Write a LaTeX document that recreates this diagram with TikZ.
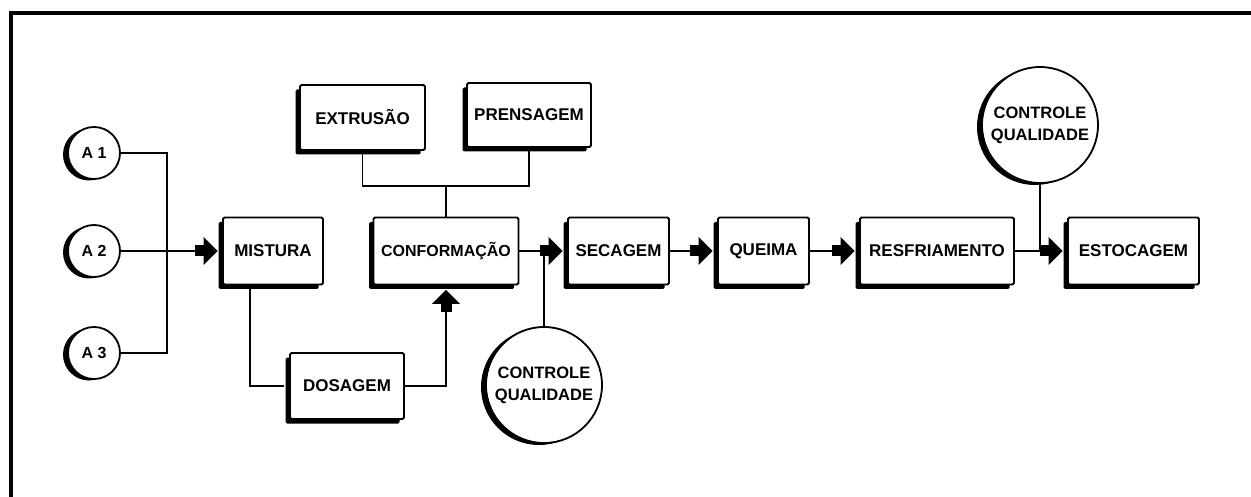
\documentclass[tikz,border=0pt]{standalone}
\usepackage{fontspec}
\setmainfont{Liberation Sans}
\usetikzlibrary{shadows,arrows.meta,calc}
\begin{document}
\begin{tikzpicture}[x=1pt,y=-1pt,
  lbl/.style={font=\fontsize{17}{21}\selectfont\bfseries, align=center},
  boxnode/.style={lbl, draw, line width=1.8pt, fill=white, rounded corners=1.5pt, minimum height=67pt, inner sep=0pt,
    drop shadow={shadow xshift=-4.5pt, shadow yshift=-4.5pt, fill=black, opacity=1}},
  srcnode/.style={circle, draw, line width=1.8pt, fill=white, minimum size=52pt, inner sep=0pt,
    font=\fontsize{16}{18}\selectfont\bfseries,
    drop shadow={shadow xshift=-5pt, shadow yshift=-1.5pt, fill=black, opacity=1}},
  qcnode/.style={circle, draw, line width=1.8pt, fill=white, minimum size=116pt, inner sep=0pt,
    font=\fontsize{16.5}{22}\selectfont\bfseries, align=center,
    drop shadow={shadow xshift=-5pt, shadow yshift=-2pt, fill=black, opacity=1}},
  conn/.style={line width=1.5pt},
  blk/.style={line width=11pt, -{Triangle[length=14pt,width=27pt]}},
]
\useasboundingbox (0,0) rectangle (1251,497);
\fill[white] (0,0) rectangle (1251,497);
\draw[line width=4pt] (11,497) -- (11,13) -- (1251,13);

\node[srcnode] (a1) at (94,153) {A 1};
\node[srcnode] (a2) at (94,251) {A 2};
\node[srcnode] (a3) at (94,353) {A 3};
\node[boxnode, minimum width=125pt, minimum height=65pt] (ext) at (362.5,117.5) {EXTRUSÃO};
\node[boxnode, minimum width=124pt, minimum height=64pt] (pren) at (529,115) {PRENSAGEM};
\node[boxnode, minimum width=100pt] (mist) at (273,251) {MISTURA};
\node[boxnode, minimum width=145pt, font=\fontsize{16}{20}\selectfont\bfseries] (conf) at (446,251) {CONFORMAÇÃO};
\node[boxnode, minimum width=114pt, minimum height=66pt] (dos) at (347,386) {DOSAGEM};
\node[boxnode, minimum width=101pt] (sec) at (618.5,251) {SECAGEM};
\node[boxnode, minimum width=91pt] (que) at (763.5,251) {QUEIMA};
\node[boxnode, minimum width=154pt] (resf) at (937,251) {RESFRIAMENTO};
\node[boxnode, minimum width=131pt] (est) at (1133.5,251) {ESTOCAGEM};
\node[qcnode] (qc1) at (544,385) {CONTROLE\\QUALIDADE};
\node[qcnode] (qc2) at (1040,125) {CONTROLE\\QUALIDADE};

\coordinate (j) at (167,251);
\draw[conn] (a1.east) -| (j);
\draw[conn] (a3.east) -| (j);
\draw[conn] (a2.east) -- ([xshift=-27pt]mist.west);
\draw[blk] ([xshift=-27pt]mist.west) -- ([xshift=-4.5pt]mist.west);

\coordinate (bus) at (446,186);
\draw[conn] (ext.south) |- (bus) -| (pren.south);
\draw[conn] (bus) -- (conf.north);

\draw[conn] ([xshift=-23pt]mist.south) |- ([xshift=-5pt]dos.west);
\draw[conn] (dos.east) -| ([yshift=-27pt]conf.south);
\draw[blk] ([yshift=-27pt]conf.south) -- ([yshift=-4.5pt]conf.south);

\draw[conn] (conf.east) -- ([xshift=-27pt]sec.west);
\draw[blk] ([xshift=-27pt]sec.west) -- ([xshift=-4.5pt]sec.west);
\draw[conn] (qc1.north) -- (qc1.north |- conf.east);

\draw[conn] (sec.east) -- ([xshift=-27pt]que.west);
\draw[blk] ([xshift=-27pt]que.west) -- ([xshift=-4.5pt]que.west);

\draw[conn] (que.east) -- ([xshift=-27pt]resf.west);
\draw[blk] ([xshift=-27pt]resf.west) -- ([xshift=-4.5pt]resf.west);

\draw[conn] (resf.east) -- ([xshift=-27pt]est.west);
\draw[blk] ([xshift=-27pt]est.west) -- ([xshift=-4.5pt]est.west);
\draw[conn] (qc2.south) -- (qc2.south |- resf.east);
\end{tikzpicture}
\end{document}
